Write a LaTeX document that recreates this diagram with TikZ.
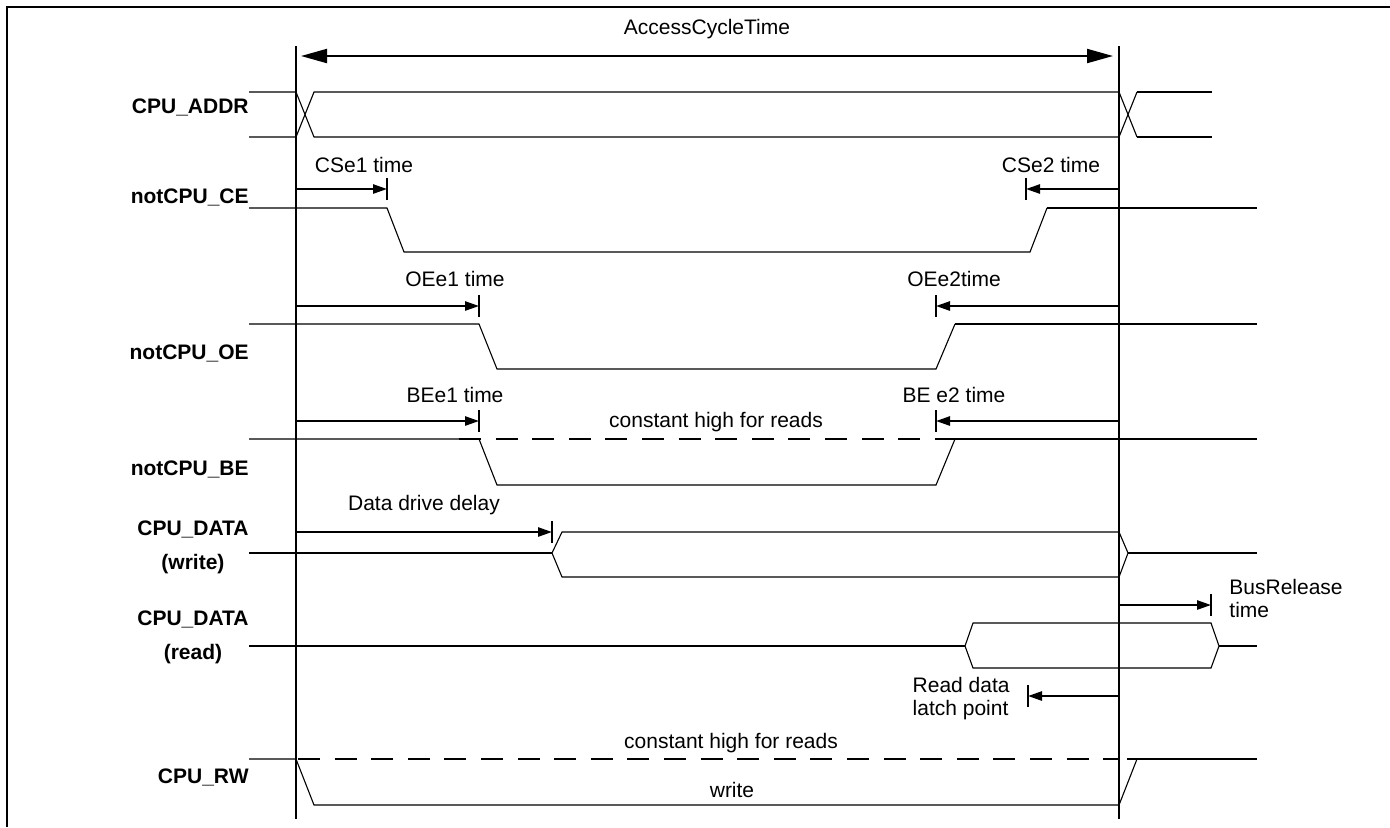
\documentclass[tikz,border=0pt]{standalone}
\usepackage{fontspec}
\setmainfont{Liberation Sans}
\usetikzlibrary{positioning, arrows.meta}
\tikzset{
	every node/.append style={
		font=\fontsize{10.5}{11.5}\selectfont,
		inner sep=0pt,
	},
	siglabel/.append style={
		font=\fontsize{10.5}{11.5}\selectfont\bfseries,
		align=center,
	},
	labe/.append style={
		align=left,
	},
	wave/.append style={
		line width=0.55pt,
	},
	wavebold/.append style={
		line width=0.95pt,
	},
	hidash/.append style={
		line width=0.95pt,
		dash pattern=on 11pt off 7.3pt,
	},
	edgeline/.append style={
		line width=1pt,
	},
	timing/.append style={
		line width=1pt,
		-{Triangle[length=7pt,width=4.6pt]},
	},
	tickbar/.append style={
		line width=1pt,
	},
	cyclearrow/.append style={
		line width=1pt,
		{Triangle[length=13pt,width=7pt]}-{Triangle[length=13pt,width=7pt]},
	}
}

\begin{document}
\begin{tikzpicture}[x=0.5pt, y=-0.5pt]
\useasboundingbox (0,0) rectangle (1390,827);

% frame
\draw[line width=1.2pt] (7,827) -- (7,7) -- (1390,7);

% cycle start / end
\coordinate (t0) at (296,46);
\coordinate (t0b) at (296,819);
\coordinate (t1) at (1119,46);
\coordinate (t1b) at (1119,819);
\draw[edgeline] (t0) -- (t0b);
\draw[edgeline] (t1) -- (t1b);

\coordinate (accL) at (301,56);
\coordinate (accR) at (1113,56);
\draw[cyclearrow] (accL) -- (accR);
\node (acclbl) at (707,29) {AccessCycleTime};

% signal names
\node (addr)[siglabel, anchor=east] at (249,107) {CPU\_ADDR};
\node (ce)[siglabel, anchor=east] at (249,197) {notCPU\_CE};
\node (oe)[siglabel, anchor=east] at (249,353) {notCPU\_OE};
\node (be)[siglabel, anchor=east] at (249,469) {notCPU\_BE};
\node (dw)[siglabel, anchor=east] at (249,529) {CPU\_DATA};
\node (dw2)[siglabel, below = 8pt of dw] {(write)};
\node (dr)[siglabel, anchor=east] at (249,619) {CPU\_DATA};
\node (dr2)[siglabel, below = 8pt of dr] {(read)};
\node (rw)[siglabel, anchor=east] at (249,777) {CPU\_RW};

% CPU_ADDR
\draw[wave] (249,92) -- (296,92) -- (314,137) -- (1119,137) -- (1137,92);
\draw[wave] (249,137) -- (296,137) -- (314,92) -- (1119,92) -- (1137,137);
\draw[wavebold] (1137,92) -- (1212,92);
\draw[wavebold] (1137,137) -- (1212,137);

% notCPU_CE
\draw[wave] (249,208) -- (387,208) -- (404,252) -- (1030,252) -- (1047,208);
\draw[wavebold] (1047,208) -- (1257,208);

% notCPU_OE
\draw[wave] (249,324) -- (479,324) -- (497,369) -- (936,369) -- (955,324);
\draw[wavebold] (955,324) -- (1257,324);

% notCPU_BE
\draw[wave] (249,439) -- (479,439) -- (497,485) -- (936,485) -- (955,439);
\draw[wavebold] (955,439) -- (1257,439);
\draw[hidash] (459,439) -- (981,439);
\node (behigh) at (716,422) {constant high for reads};

% CPU_DATA (write)
\draw[wavebold] (249,553) -- (552,553);
\draw[wave] (552,553) -- (562,532) -- (1119,532) -- (1128,553) -- (1119,577) -- (562,577) -- cycle;
\draw[wavebold] (1128,553) -- (1257,553);

% CPU_DATA (read)
\draw[wavebold] (249,646) -- (965,646);
\draw[wave] (965,646) -- (973,623) -- (1211,623) -- (1219,646) -- (1211,668) -- (973,668) -- cycle;
\draw[wavebold] (1219,646) -- (1257,646);

% CPU_RW
\draw[wave] (249,759) -- (296,759) -- (314,805) -- (1119,805) -- (1137,759);
\draw[wavebold] (1127,759) -- (1257,759);
\draw[hidash] (298,759) -- (1119,759);
\node (rwhigh) at (731,743) {constant high for reads};
\node (rwlow) at (732,790) {write};

% timing marks
\coordinate (ce1) at (387,189);
\coordinate (ce2) at (1026,189);
\coordinate (oe1) at (479,306);
\coordinate (oe2) at (936,306);
\coordinate (be1) at (479,421);
\coordinate (be2) at (936,421);
\coordinate (dd) at (552,532);
\coordinate (br) at (1211,605);
\coordinate (rl) at (1028,696);

\draw[timing] (ce1 -| t0) -- (ce1);
\draw[timing] (ce2 -| t1) -- (ce2);
\draw[timing] (oe1 -| t0) -- (oe1);
\draw[timing] (oe2 -| t1) -- (oe2);
\draw[timing] (be1 -| t0) -- (be1);
\draw[timing] (be2 -| t1) -- (be2);
\draw[timing] (dd -| t0) -- (dd);
\draw[timing] (br -| t1) -- (br);
\draw[timing] (rl -| t1) -- (rl);
\foreach \c in {ce1,ce2,oe1,oe2,be1,be2,dd,br,rl}
	\draw[tickbar] ([yshift=5.5pt]\c) -- ([yshift=-5.5pt]\c);

\node (ce1lbl) at (364,165) {CSe1 time};
\node (ce2lbl) at (1051,165) {CSe2 time};
\node (oe1lbl) at (455,279) {OEe1 time};
\node (oe2lbl) at (954,279) {OEe2time};
\node (be1lbl) at (455,395) {BEe1 time};
\node (be2lbl) at (954,395) {BE e2 time};
\node (ddlbl) at (424,505) {Data drive delay};
\node (brlbl)[labe, anchor=west] at (1229,598) {BusRelease\\time};
\node (rllbl)[labe, anchor=east] at (1010,699) {Read data\\latch point};

\end{tikzpicture}
\end{document}
